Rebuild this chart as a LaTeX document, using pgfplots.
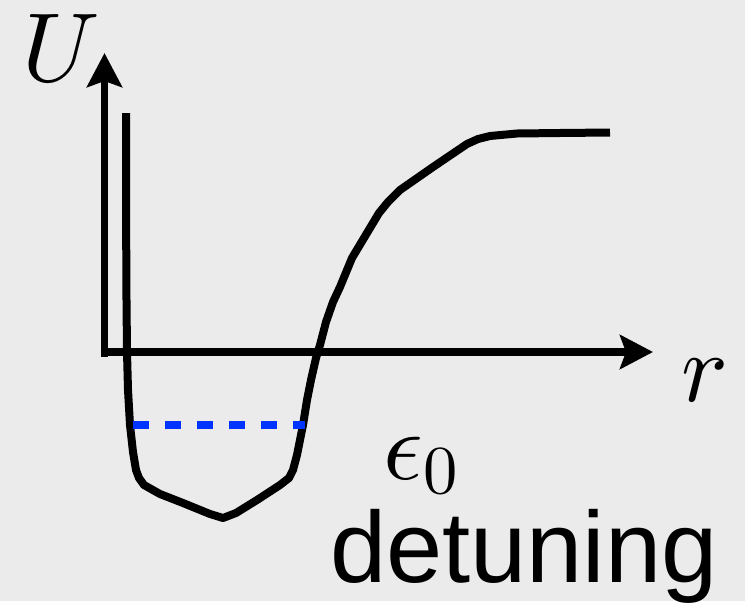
\documentclass[border=0pt]{standalone}
\usepackage{pgfplots}
\pgfplotsset{compat=1.18}
\usepackage{fontspec}
\newfontfamily\labelsans{Liberation Sans}
\usetikzlibrary{arrows.meta}
% scalable Computer Modern math fonts for the large symbols
\DeclareFontShape{OML}{cmm}{m}{it}{<->cmmi10}{}
\DeclareFontShape{OT1}{cmr}{m}{n}{<->cmr10}{}
\DeclareFontShape{OMS}{cmsy}{m}{n}{<->cmsy10}{}
\definecolor{bggray}{RGB}{235,235,235}
\definecolor{levelblue}{RGB}{0,51,255}

\begin{document}
\begin{tikzpicture}
\begin{axis}[
  width=745pt, height=601pt, scale only axis,
  xmin=0, xmax=745, ymin=0, ymax=601, y dir=reverse,
  axis line style={draw=none}, ticks=none,
  axis background/.style={fill=bggray},
  clip=false,
]
% coordinate axes
\addplot[black, line width=7.5pt, -{Stealth[length=34pt,width=35pt,inset=6pt]}]
  coordinates {(104.5,356.5) (104.5,53)};
\addplot[black, line width=7.5pt, -{Stealth[length=33pt,width=34pt,inset=6pt]}]
  coordinates {(101,352) (653,352)};
% interaction potential U(r)
\addplot[black, line width=8pt, line join=round, line cap=butt] coordinates {
  (126,113) (126,200) (126.5,300) (127,352) (128,390) (130,425) (133,452)
  (136,470) (139,478) (144,485) (160,494) (183,503) (210,514) (223,518)
  (236,513) (257,500) (280,485) (289,478) (293,470) (297,455) (300,440)
  (303,425) (307,400) (311,380) (316,358) (320,345) (326,322) (333,302)
  (340,287) (352,258) (367,233) (379,213) (388,202) (400,190) (433,167)
  (467,144) (478,139) (490,136) (517,133.5) (560,133) (610,132.5)
};
% bound-state level
\addplot[levelblue, line width=7.5pt, dash pattern=on 16pt off 16pt]
  coordinates {(133,425) (305,425)};
% labels
\node[inner sep=0pt, anchor=base] at (axis cs:61,81)
  {\fontsize{98}{98}\selectfont $U$};
\node[inner sep=0pt, anchor=base] at (axis cs:705,401)
  {\fontsize{98}{98}\selectfont $r$};
\node[inner sep=0pt, anchor=base] at (axis cs:421,479)
  {\fontsize{98}{98}\selectfont $\epsilon_0$};
\node[inner sep=0pt, anchor=base] at (axis cs:524,582)
  {\fontsize{101}{101}\selectfont\labelsans detuning};
\end{axis}
\end{tikzpicture}
\end{document}
